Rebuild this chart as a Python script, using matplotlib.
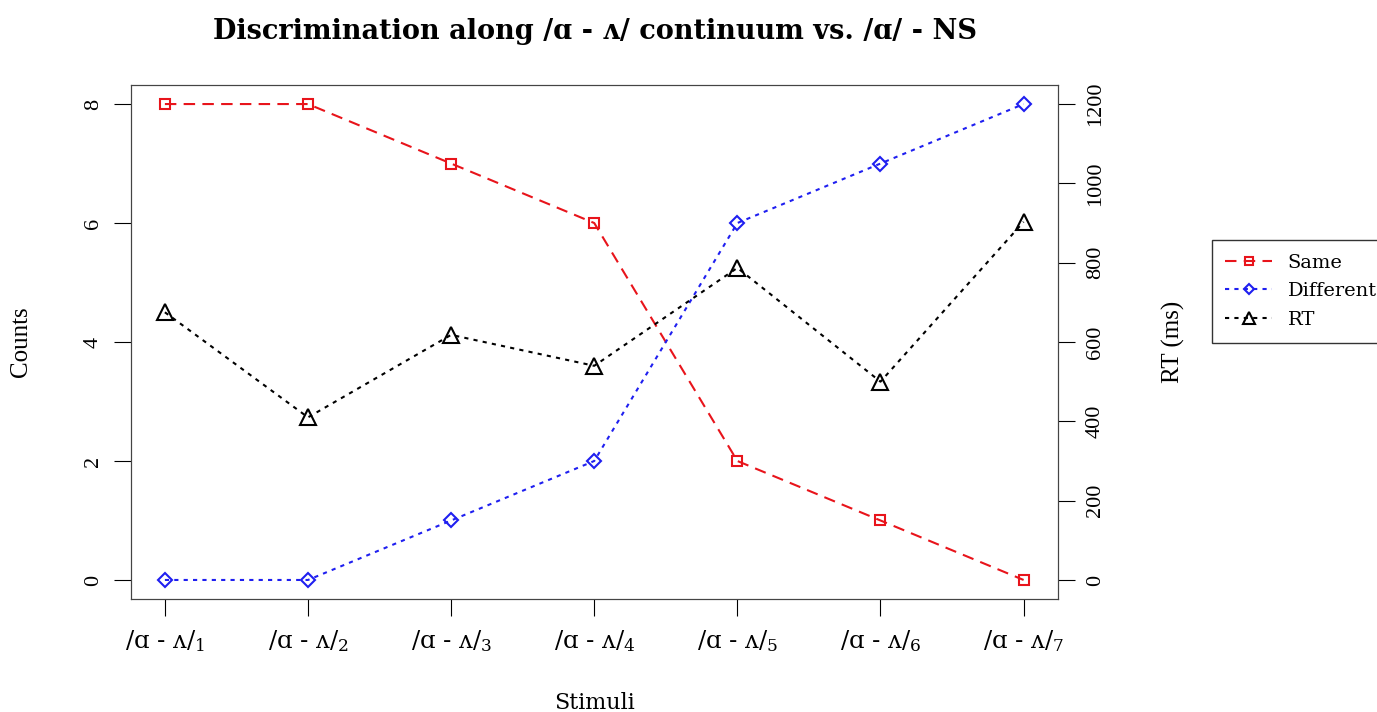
import numpy as np
import matplotlib.pyplot as plt

plt.rcParams['font.family'] = ['Liberation Serif', 'DejaVu Serif']
plt.rcParams['mathtext.fontset'] = 'dejavuserif'

WIDE = ['DejaVu Serif']
TIMES = ['Liberation Serif']

stimuli = [f"/ɑ - ʌ/$_{i}$" for i in range(1, 8)]
same = [8, 8, 7, 6, 2, 1, 0]
different = [0, 0, 1, 2, 6, 7, 8]
rt = [675, 410, 618, 540, 787, 500, 903]

x = np.arange(1, 8)

fig = plt.figure(figsize=(13.77, 7.12), dpi=100)
ax = fig.add_axes([0.0948, 0.1587, 0.6735, 0.7219])

l1, = ax.plot(x, same, color='#e8141b', ls=(0, (5.5, 3.5)), lw=1.5, marker='s', ms=7,
              mfc='none', mew=1.5, label='Same')
l2, = ax.plot(x, different, color='#1f1ff0', ls=(0, (2, 2.5)), lw=1.5, marker='D', ms=7,
              mfc='none', mew=1.5, label='Different')
ax.set_xlim(0.76, 7.24)
ax.set_ylim(-0.32, 8.32)
ax.set_yticks([0, 2, 4, 6, 8])
ax.set_xticks(x)
ax.set_xticklabels(stimuli, fontsize=17.5, family=WIDE)
ax.tick_params(axis='y', labelsize=16, length=12, pad=8)
ax.tick_params(axis='x', length=12, pad=9)
ax.set_ylabel('Counts', fontsize=18, labelpad=37, family=TIMES)
ax.set_xlabel('Stimuli', fontsize=16, labelpad=27, family=WIDE)

ax2 = ax.twinx()
l3, = ax2.plot(x, rt, color='black', ls=(0, (2, 2.5)), lw=1.5, marker='^', ms=12,
               mfc='none', mew=1.5, label='RT')
ax2.set_ylim(-48, 1248)
ax2.set_yticks(range(0, 1201, 200))
ax2.tick_params(axis='y', labelsize=16, length=12, pad=8)
ax2.set_ylabel('RT (ms)', fontsize=18, labelpad=41, family=TIMES)

for a in (ax, ax2):
    for lab in a.get_yticklabels():
        lab.set_rotation(90)
        lab.set_va('center')
        lab.set_family(TIMES)
    for s in a.spines.values():
        s.set_color('#444444')

fig.suptitle('Discrimination along /ɑ - ʌ/ continuum vs. /ɑ/ - NS', x=0.432, y=0.975,
             fontsize=19.5, fontweight='bold', family=WIDE)

leg = fig.legend(handles=[l1, l2, l3], loc='upper left', bbox_to_anchor=(0.880, 0.663),
                 prop={'family': WIDE, 'size': 14}, frameon=True, fancybox=False,
                 edgecolor='black', handlelength=2.4, borderpad=0.7, labelspacing=0.55,
                 markerscale=0.75, borderaxespad=0)
leg.get_frame().set_linewidth(1.0)

fig.savefig('out.png', dpi=100)
